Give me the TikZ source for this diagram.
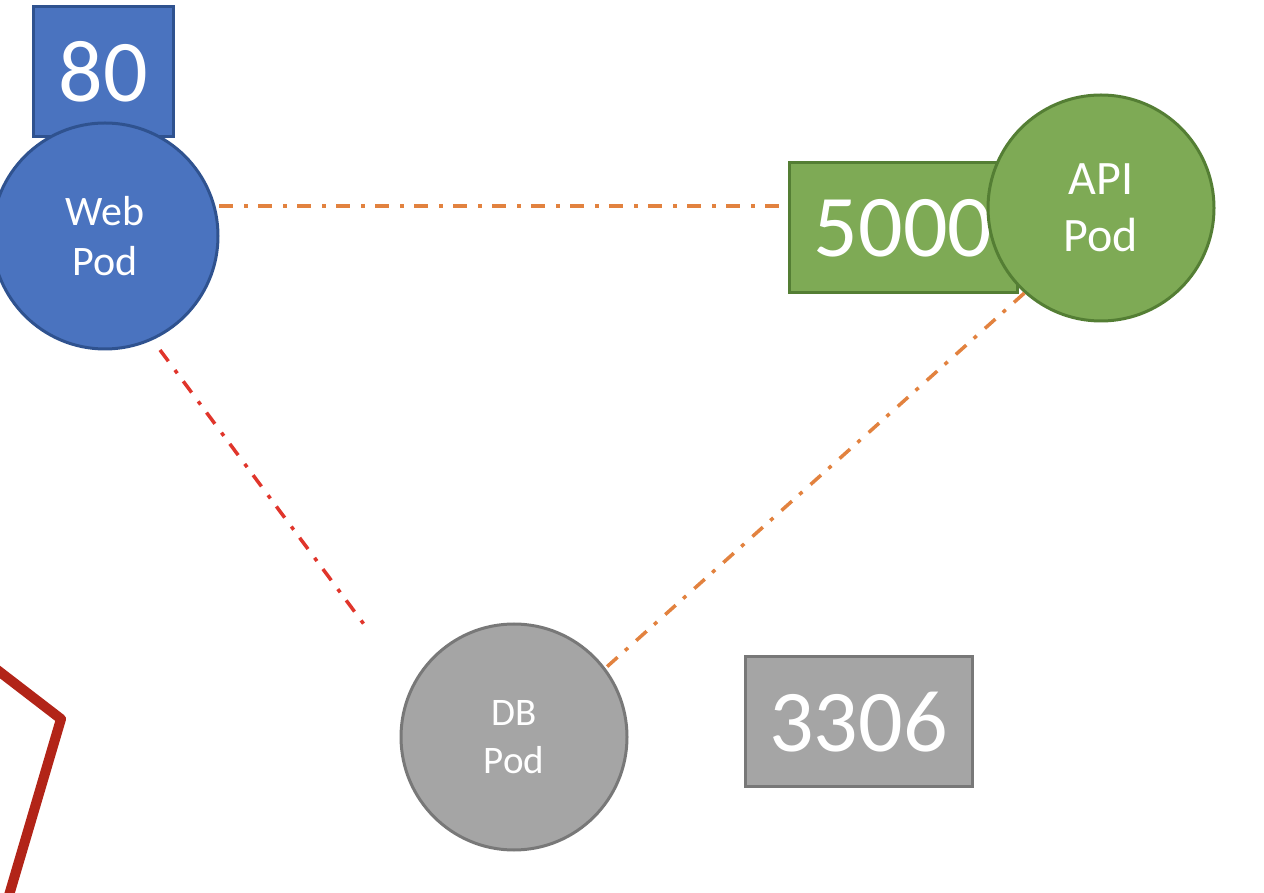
\documentclass[tikz,border=0pt]{standalone}
\usepackage{fontspec}
\setmainfont{Carlito}
\definecolor{bluefill}{HTML}{4A73BF}
\definecolor{bluedraw}{HTML}{2F528F}
\definecolor{greenfill}{HTML}{7EAA55}
\definecolor{greendraw}{HTML}{547E34}
\definecolor{grayfill}{HTML}{A5A5A5}
\definecolor{graydraw}{HTML}{787878}
\definecolor{linkorange}{HTML}{E2823F}
\definecolor{linkred}{HTML}{E0352B}
\definecolor{darkred}{HTML}{B22418}
\begin{document}
\begin{tikzpicture}[x=1pt,y=1pt,
  pod/.style={circle,minimum size=226pt,inner sep=0pt,line width=3pt,text=white,
    align=center,font=\fontsize{42}{50}\selectfont},
  portbox/.style={rectangle,inner sep=0pt,line width=3pt,text=white,
    minimum height=130pt,font=\fontsize{88}{90}\selectfont},
  link/.style={line width=3.5pt,dash pattern=on 14pt off 11pt on 4pt off 10pt}]
\useasboundingbox (0,0) rectangle (1264,892);
\begin{scope}
\clip (0,0) rectangle (1264,892);
% Web
\node[portbox,fill=bluefill,draw=bluedraw,minimum width=140pt] (p80) at (103,820) {80};
\node[pod,fill=bluefill,draw=bluedraw] (web) at (105,656) {Web\\Pod};
% API
\node[portbox,fill=greenfill,draw=greendraw,minimum width=228pt] (p5000) at (903,664) {5000};
\node[pod,fill=greenfill,draw=greendraw,font=\fontsize{48}{57}\selectfont] (api) at (1101,684) {API\\Pod};
% DB
\node[pod,fill=grayfill,draw=graydraw,font=\fontsize{39}{48}\selectfont] (db) at (514,155) {DB\\Pod};
\node[portbox,fill=grayfill,draw=graydraw,minimum width=227pt] (p3306) at (858.5,170) {3306};
% links
\coordinate (webout) at (219,686);
\coordinate (redstart) at (160,542);
\coordinate (redend) at (366,265);
\draw[link,linkorange] (webout) -- (p5000.west |- webout);
\draw[link,linkorange] (api.228) -- (db.37);
\draw[link,linkred] (redstart) -- (redend);
% thick red outline
\coordinate (r1) at (-30,243);
\coordinate (r2) at (61,173);
\coordinate (r3) at (2,-27);
\draw[darkred,line width=10pt,line join=round] (r1) -- (r2) -- (r3);
\end{scope}
\end{tikzpicture}
\end{document}
